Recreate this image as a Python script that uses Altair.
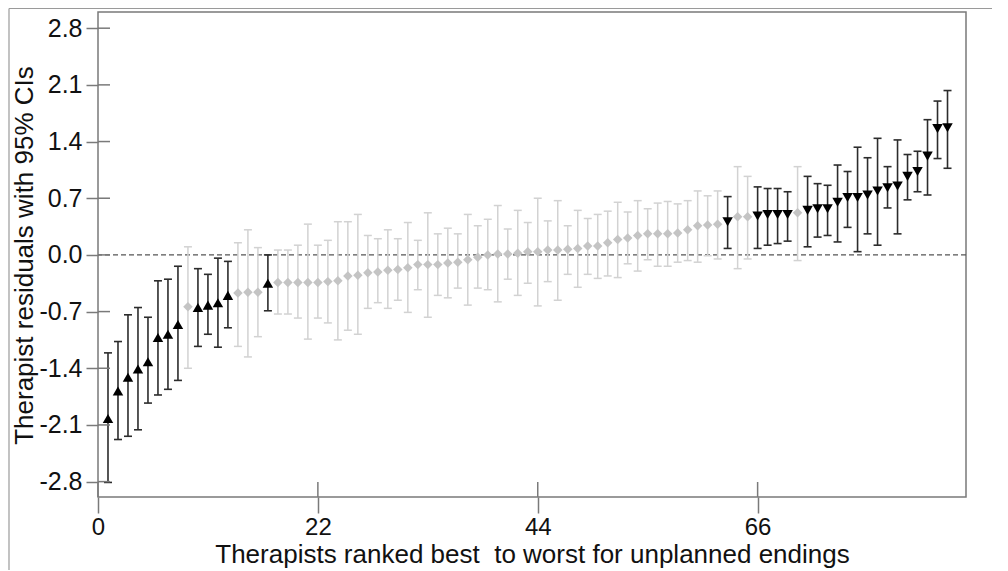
import altair as alt
import pandas as pd

# ---- data ----
rank = list(range(1, 86))
resid = [-2.02, -1.68, -1.51, -1.41, -1.32, -1.02, -0.98, -0.86, -0.64, -0.65,
         -0.62, -0.59, -0.50, -0.47, -0.46, -0.46, -0.35, -0.34, -0.34, -0.34,
         -0.34, -0.34, -0.33, -0.32, -0.26, -0.25, -0.22, -0.21, -0.19, -0.18,
         -0.16, -0.12, -0.12, -0.12, -0.10, -0.09, -0.06, -0.03, 0.00, 0.01,
         0.01, 0.02, 0.04, 0.04, 0.06, 0.06, 0.07, 0.08, 0.11, 0.11,
         0.15, 0.19, 0.21, 0.24, 0.26, 0.26, 0.26, 0.27, 0.31, 0.36,
         0.37, 0.38, 0.41, 0.47, 0.47, 0.48, 0.50, 0.50, 0.50, 0.52,
         0.55, 0.57, 0.57, 0.65, 0.71, 0.71, 0.74, 0.79, 0.83, 0.85,
         0.97, 1.03, 1.22, 1.56, 1.57]
lower = [-2.81, -2.28, -2.24, -2.16, -1.83, -1.73, -1.66, -1.55, -1.40, -1.13,
         -0.98, -1.14, -0.90, -1.13, -1.26, -1.01, -0.69, -0.73, -0.73, -0.78,
         -1.04, -0.78, -0.84, -1.05, -0.93, -0.98, -0.66, -0.59, -0.66, -0.56,
         -0.71, -0.43, -0.77, -0.50, -0.53, -0.41, -0.62, -0.41, -0.43, -0.58,
         -0.30, -0.50, -0.35, -0.63, -0.33, -0.56, -0.24, -0.40, -0.24, -0.29,
         -0.26, -0.28, -0.11, -0.20, -0.06, -0.14, -0.14, -0.09, -0.07, -0.09,
         -0.01, -0.05, 0.08, -0.17, -0.05, 0.08, 0.12, 0.14, 0.17, -0.07,
         0.10, 0.22, 0.24, 0.16, 0.34, 0.04, 0.26, 0.12, 0.58, 0.26,
         0.68, 0.78, 0.74, 1.19, 1.07]
upper = [-1.21, -1.07, -0.74, -0.65, -0.77, -0.32, -0.30, -0.14, 0.10, -0.17,
         -0.24, -0.04, -0.08, 0.15, 0.31, 0.09, 0.00, 0.06, 0.06, 0.12,
         0.38, 0.12, 0.18, 0.41, 0.41, 0.50, 0.24, 0.20, 0.31, 0.20,
         0.40, 0.18, 0.52, 0.26, 0.33, 0.26, 0.50, 0.36, 0.44, 0.61,
         0.32, 0.55, 0.40, 0.70, 0.42, 0.67, 0.36, 0.55, 0.45, 0.50,
         0.54, 0.65, 0.53, 0.67, 0.57, 0.64, 0.66, 0.63, 0.67, 0.79,
         0.73, 0.79, 0.72, 1.09, 0.97, 0.84, 0.82, 0.82, 0.78, 1.09,
         0.97, 0.88, 0.86, 1.11, 1.03, 1.33, 1.20, 1.44, 1.09, 1.42,
         1.24, 1.28, 1.67, 1.90, 2.03]
better_ranks = [1, 2, 3, 4, 5, 6, 7, 8, 10, 11, 12, 13, 17]
worse_ranks = [63, 66, 67, 68, 69] + list(range(71, 86))

x_ticks = [0, 22, 44, 66]
y_ticks = [-2.8, -2.1, -1.4, -0.7, 0.0, 0.7, 1.4, 2.1, 2.8]
x_title = "Therapists ranked best\u00a0 to worst for unplanned endings"
y_title = "Therapist residuals with 95% CIs"

sig = ["up" if r in better_ranks else ("down" if r in worse_ranks else "none") for r in rank]
df = pd.DataFrame({"rank": rank, "resid": resid, "lower": lower, "upper": upper, "sig": sig})

FONT = "Liberation Sans"
W, H = 868, 485

xs = alt.Scale(domain=[0, 86.85], nice=False, zero=False)
ys = alt.Scale(domain=[-2.99, 3.0], nice=False, zero=False)

x_axis = alt.Axis(values=x_ticks, title=x_title, domain=False, grid=False,
                  tickSize=16, tickColor="#7a7a7a", tickWidth=1.5,
                  labelFontSize=24, labelFont=FONT, labelColor="#111111",
                  labelPadding=2, labelFlush=False, labelOverlap=False,
                  titleFontSize=26, titleFont=FONT, titleFontWeight="normal",
                  titleColor="#111111", titleY=65, titleBaseline="alphabetic")
y_axis = alt.Axis(values=y_ticks, title=y_title, domain=False, grid=False,
                  labelExpr="datum.value < 0 ? '-' + format(-datum.value, '.1f') : format(datum.value, '.1f')",
                  tickSize=12, tickColor="#7a7a7a", tickWidth=1.5,
                  labelFontSize=25, labelFont=FONT, labelColor="#111111",
                  labelPadding=4, labelFlush=False, labelOverlap=False,
                  titleFontSize=26, titleFont=FONT, titleFontWeight="normal",
                  titleColor="#111111", titleAngle=270, titleX=-66, titleY=243,
                  titleBaseline="alphabetic")


def X():
    return alt.X("rank:Q", scale=xs, axis=x_axis)


def Y(field):
    return alt.Y(f"{field}:Q", scale=ys, axis=y_axis)


base = alt.Chart(df)
grey = base.transform_filter(alt.datum.sig == "none")
dark = base.transform_filter(alt.datum.sig != "none")

CAP = "M-1,0L1,0"


def bars(src, color, width):
    rule = src.mark_rule(color=color, strokeWidth=width).encode(x=X(), y=Y("lower"), y2="upper:Q")
    cap_lo = src.mark_point(shape=CAP, size=64, filled=False, color=color, strokeWidth=width,
                            opacity=1).encode(x=X(), y=Y("lower"))
    cap_hi = src.mark_point(shape=CAP, size=64, filled=False, color=color, strokeWidth=width,
                            opacity=1).encode(x=X(), y=Y("upper"))
    return [rule, cap_lo, cap_hi]


zero = alt.Chart(pd.DataFrame({"z": [0.0]})).mark_rule(
    color="#555555", strokeWidth=1.3, strokeDash=[5, 3]
).encode(y=Y("z"))

diamonds = grey.mark_point(shape="diamond", size=90, filled=True, color="#c4c4c4",
                           opacity=1).encode(x=X(), y=Y("resid"))
tri = dark.mark_point(filled=True, size=110, color="#000000", opacity=1).encode(
    x=X(), y=Y("resid"),
    shape=alt.Shape("sig:N", scale=alt.Scale(domain=["up", "down"],
                                             range=["triangle-up", "triangle-down"]),
                    legend=None))

# inner halves of the axis ticks (ticks cross the frame)
xt = alt.Chart(pd.DataFrame({"t": x_ticks})).mark_rule(color="#7a7a7a", strokeWidth=1.5).encode(
    x=alt.X("t:Q", scale=xs, axis=x_axis), y=alt.value(H), y2=alt.value(H - 15))
yt = alt.Chart(pd.DataFrame({"t": y_ticks})).mark_rule(color="#7a7a7a", strokeWidth=1.5).encode(
    y=alt.Y("t:Q", scale=ys, axis=y_axis), x=alt.value(0), x2=alt.value(12))

# thin border of the original picture
one = pd.DataFrame({"a": [0]})
border_left = alt.Chart(one).mark_rule(color="#9a9a9a", strokeWidth=1.2).encode(
    x=alt.value(-89), y=alt.value(-3.5), y2=alt.value(H + 90))
border_top = alt.Chart(one).mark_rule(color="#9a9a9a", strokeWidth=1.2).encode(
    x=alt.value(-89), x2=alt.value(W + 60), y=alt.value(-3.5))

layers = ([zero] + bars(grey, "#d2d2d2", 1.5) + [diamonds] + bars(dark, "#2c2c2c", 1.6) + [tri]
          + [xt, yt, border_left, border_top])

chart = alt.layer(*layers).properties(
    width=W, height=H,
    autosize=alt.AutoSizeParams(type="none"),
    padding={"left": 90, "top": 4, "right": 26, "bottom": 73},
    background="white",
).configure_view(stroke="#7a7a7a", strokeWidth=1.5)

chart.save("out.html", embed_options={"renderer": "svg", "actions": False})
